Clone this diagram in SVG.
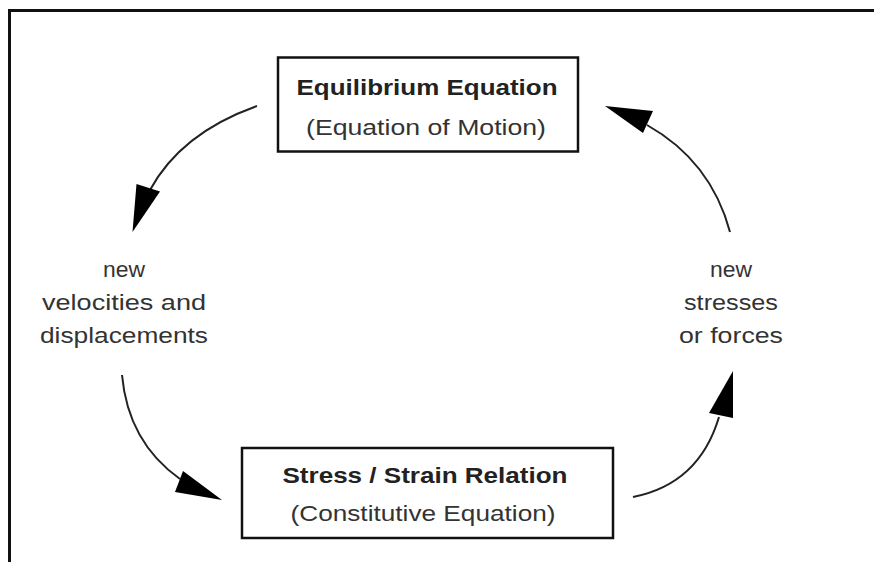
<svg xmlns="http://www.w3.org/2000/svg" width="874" height="562" viewBox="0 0 874 562">
  <style>
    .frame { fill: none; stroke: #111; stroke-width: 3; }
    .box { fill: #fff; stroke: #111; stroke-width: 2.5; }
    .title { font-family: "Liberation Sans", Arial, sans-serif; font-size: 22px; font-weight: bold; fill: #222; text-anchor: middle; }
    .sub { font-family: "Liberation Sans", Arial, sans-serif; font-size: 22px; fill: #333; text-anchor: middle; }
    .label { font-family: "Liberation Sans", Arial, sans-serif; font-size: 22px; fill: #333; text-anchor: middle; }
    .curve { fill: none; stroke: #222; stroke-width: 2; }
    .head { fill: #000; }
  </style>
  <rect width="874" height="562" fill="#fff"/>

  <!-- outer frame: top and left edges only -->
  <path class="frame" d="M9.5,562 V10.5 H874"/>

  <g id="equilibrium">
    <rect class="box" x="278" y="57.5" width="300" height="94"/>
    <text class="title" x="427" y="95" textLength="261" lengthAdjust="spacingAndGlyphs">Equilibrium Equation</text>
    <text class="sub" x="426" y="135" textLength="240" lengthAdjust="spacingAndGlyphs">(Equation of Motion)</text>
  </g>

  <g id="constitutive">
    <rect class="box" x="242" y="448" width="371" height="90"/>
    <text class="title" x="425" y="483" textLength="285" lengthAdjust="spacingAndGlyphs">Stress / Strain Relation</text>
    <text class="sub" x="423" y="521" textLength="265" lengthAdjust="spacingAndGlyphs">(Constitutive Equation)</text>
  </g>

  <g id="velocities">
    <text class="label" x="124" y="277" textLength="42" lengthAdjust="spacingAndGlyphs">new</text>
    <text class="label" x="124" y="310" textLength="164" lengthAdjust="spacingAndGlyphs">velocities and</text>
    <text class="label" x="124" y="343" textLength="168" lengthAdjust="spacingAndGlyphs">displacements</text>
  </g>

  <g id="stresses">
    <text class="label" x="731" y="277" textLength="42" lengthAdjust="spacingAndGlyphs">new</text>
    <text class="label" x="731" y="310" textLength="94" lengthAdjust="spacingAndGlyphs">stresses</text>
    <text class="label" x="731" y="343" textLength="104" lengthAdjust="spacingAndGlyphs">or forces</text>
  </g>

  <g id="connectors">
    <!-- equilibrium -> velocities -->
    <path class="curve" d="M257,106 Q181,133 150,190"/>
    <polygon class="head" points="136.5,184 160,191.5 132.5,232"/>
    <!-- velocities -> constitutive -->
    <path class="curve" d="M122,375 Q128,442 180,479"/>
    <polygon class="head" points="183,471 175,492 222,500"/>
    <!-- constitutive -> stresses -->
    <path class="curve" d="M633,497 Q699,484 719,417"/>
    <polygon class="head" points="733,371 709,413 733,418"/>
    <!-- stresses -> equilibrium -->
    <path class="curve" d="M730,232 Q711,161 647,125"/>
    <polygon class="head" points="605,106 653,111 643,133"/>
  </g>
</svg>
